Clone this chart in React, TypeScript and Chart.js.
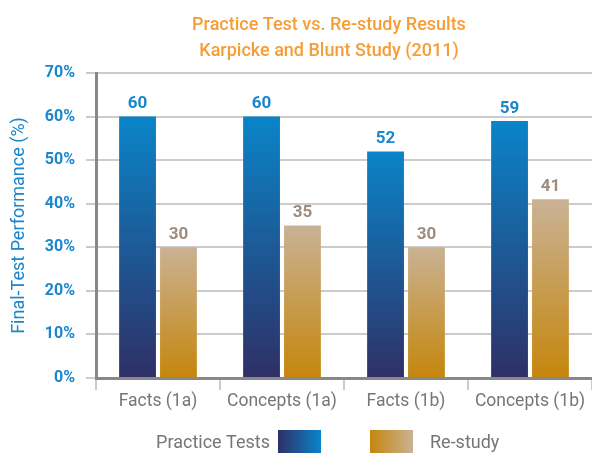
import React, { useEffect, useRef } from "react";
import { Chart, registerables } from "chart.js";

Chart.register(...registerables);

const categories = ["Facts (1a)", "Concepts (1a)", "Facts (1b)", "Concepts (1b)"];
const practiceTests = [60, 60, 52, 59];
const reStudy = [30, 35, 30, 41];
const yTickValues = [0, 10, 20, 30, 40, 50, 60, 70];
const seriesNames = ["Practice Tests", "Re-study"];
const titleLines = ["Practice Test vs. Re-study Results", "Karpicke and Blunt Study (2011)"];
const yAxisTitle = "Final-Test Performance (%)";

const FONT = "Roboto";
const BLUE_TEXT = "#1a86cc";
const ORANGE = "#f69d35";
const GRAY_TEXT = "#767676";
const gradientStops = [
  { top: "#0a84c8", bottom: "#2f3066" },
  { top: "#c9b294", bottom: "#c5860c" },
];
const labelColors = [BLUE_TEXT, "#a08c7c"];

function barGradient(ctx: any, dsIndex: number) {
  const chart = ctx.chart;
  const area = chart.chartArea;
  const stops = gradientStops[dsIndex];
  if (!area || ctx.parsed === undefined || ctx.type !== "data") return stops.top;
  const yScale = chart.scales.y;
  const yTop = yScale.getPixelForValue(ctx.parsed.y);
  const yBottom = yScale.getPixelForValue(0);
  const g = chart.ctx.createLinearGradient(0, yTop, 0, yBottom);
  g.addColorStop(0, stops.top);
  g.addColorStop(1, stops.bottom);
  return g;
}

const titlePlugin = {
  id: "customTitle",
  afterDraw(chart: any) {
    const { ctx } = chart;
    ctx.save();
    ctx.font = `500 18px ${FONT}`;
    ctx.fillStyle = ORANGE;
    ctx.textAlign = "center";
    ctx.textBaseline = "middle";
    titleLines.forEach((t, i) => ctx.fillText(t, 329, 25 + i * 26));
    ctx.restore();
  },
};

const valueLabelPlugin = {
  id: "valueLabels",
  afterDatasetsDraw(chart: any) {
    const { ctx } = chart;
    ctx.save();
    ctx.font = `bold 17px ${FONT}`;
    ctx.textAlign = "center";
    ctx.textBaseline = "bottom";
    chart.data.datasets.forEach((ds: any, di: number) => {
      const meta = chart.getDatasetMeta(di);
      ctx.fillStyle = labelColors[di];
      meta.data.forEach((el: any, i: number) => {
        ctx.fillText(String(ds.data[i]), el.x, el.y - 4);
      });
    });
    ctx.restore();
  },
};

const legendPlugin = {
  id: "customLegend",
  afterDraw(chart: any) {
    const { ctx } = chart;
    const labels = chart.data.datasets.map((d: any) => d.label);
    const boxW = 43;
    const boxH = 23;
    const boxTop = 430;
    const textY = 443;
    ctx.save();
    ctx.font = `18px ${FONT}`;
    ctx.fillStyle = GRAY_TEXT;
    ctx.textBaseline = "middle";
    ctx.textAlign = "right";
    ctx.fillText(labels[0], 270, textY);
    let g = ctx.createLinearGradient(278, 0, 278 + boxW, 0);
    g.addColorStop(0, gradientStops[0].bottom);
    g.addColorStop(1, gradientStops[0].top);
    ctx.fillStyle = g;
    ctx.fillRect(278, boxTop, boxW, boxH);
    g = ctx.createLinearGradient(370, 0, 370 + boxW, 0);
    g.addColorStop(0, gradientStops[1].bottom);
    g.addColorStop(1, gradientStops[1].top);
    ctx.fillStyle = g;
    ctx.fillRect(370, boxTop, boxW, boxH);
    ctx.fillStyle = GRAY_TEXT;
    ctx.textAlign = "left";
    ctx.fillText(labels[1], 430, textY);
    ctx.restore();
  },
};

export default function App() {
  const canvasRef = useRef<HTMLCanvasElement | null>(null);

  useEffect(() => {
    document.body.style.margin = "0";
    const canvas = canvasRef.current;
    if (!canvas) return;
    const chart = new Chart(canvas, {
      type: "bar",
      data: {
        labels: categories,
        datasets: [
          {
            label: seriesNames[0],
            data: practiceTests,
            backgroundColor: (c: any) => barGradient(c, 0),
            categoryPercentage: 0.66,
            barPercentage: 0.9,
          },
          {
            label: seriesNames[1],
            data: reStudy,
            backgroundColor: (c: any) => barGradient(c, 1),
            categoryPercentage: 0.66,
            barPercentage: 0.9,
          },
        ],
      },
      options: {
        responsive: false,
        animation: false,
        layout: { padding: { top: 73, left: 0, right: 0, bottom: 0 } },
        plugins: {
          legend: { display: false },
          title: { display: false },
          tooltip: { enabled: false },
        },
        scales: {
          x: {
            grid: {
              display: true,
              drawOnChartArea: false,
              drawTicks: true,
              tickLength: 12,
              color: "#cccccc",
              lineWidth: 2,
              offset: true,
            },
            border: { color: "#888888", width: 3 },
            ticks: {
              color: GRAY_TEXT,
              font: { family: FONT, size: 17.5 },
              padding: 1,
              maxRotation: 0,
              autoSkip: false,
            },
            afterFit: (s: any) => {
              s.height = 75;
            },
          },
          y: {
            min: 0,
            max: 70,
            afterBuildTicks: (s: any) => {
              s.ticks = yTickValues.map((v) => ({ value: v }));
            },
            ticks: {
              color: BLUE_TEXT,
              font: { family: FONT, size: 16, weight: "bold" },
              padding: 11,
              callback: (v: any) => `${v}%`,
            },
            grid: {
              color: (c: any) => (c.tick && c.tick.value === 0 ? "rgba(0,0,0,0)" : "#cccccc"),
              tickColor: "#cccccc",
              lineWidth: 2,
              tickLength: 10,
            },
            border: { color: "#888888", width: 3 },
            title: {
              display: true,
              text: yAxisTitle,
              color: BLUE_TEXT,
              font: { family: FONT, size: 18, weight: "normal" },
              padding: { top: 9, bottom: 0 },
            },
            afterFit: (s: any) => {
              s.width = 96;
            },
          },
        },
      },
      plugins: [titlePlugin, valueLabelPlugin, legendPlugin],
    });
    return () => chart.destroy();
  }, []);

  return (
    <div style={{ width: 592, height: 453 }}>
      <canvas ref={canvasRef} width={592} height={453} style={{ display: "block" }} />
    </div>
  );
}
